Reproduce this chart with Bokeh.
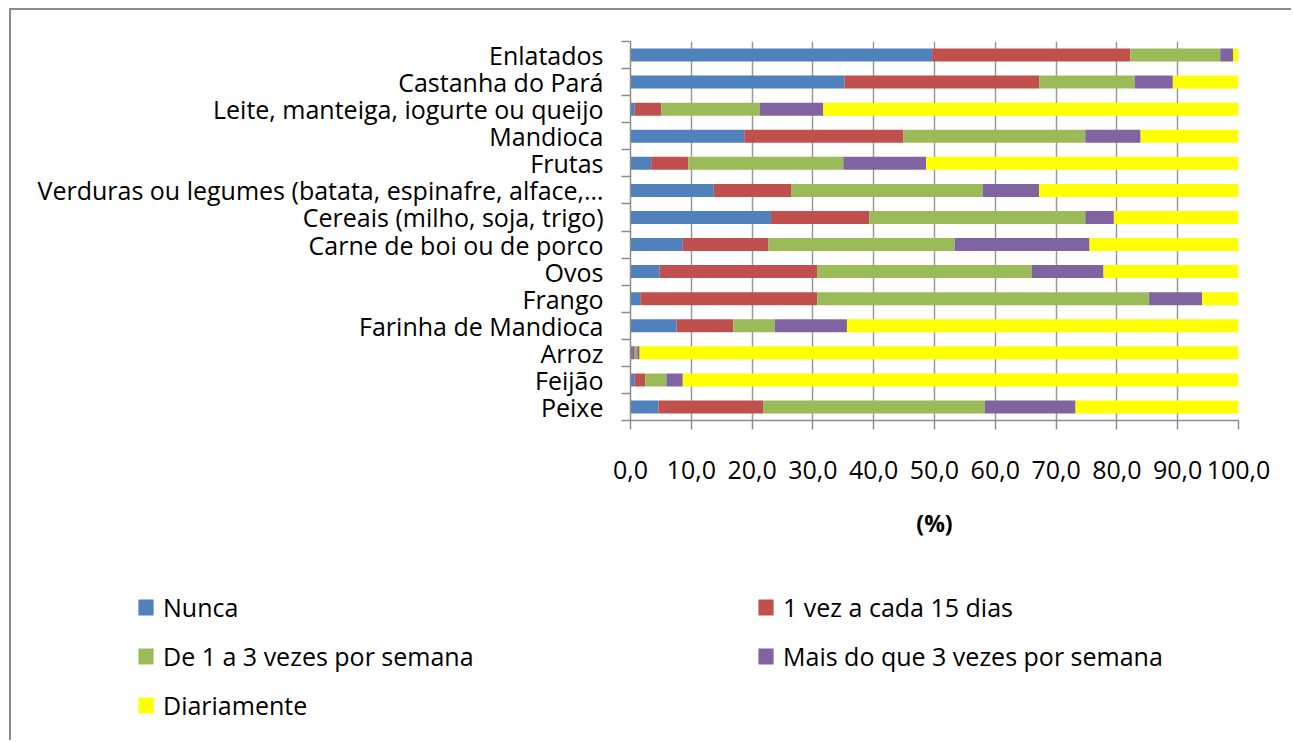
from bokeh.plotting import figure
from bokeh.models import Range1d, FixedTicker, Legend, LegendItem, ColumnDataSource
from bokeh.layouts import column
from bokeh.embed import file_html
from bokeh.resources import INLINE

categories = ["Enlatados", "Castanha do Pará", "Leite, manteiga, iogurte ou queijo",
              "Mandioca", "Frutas", "Verduras ou legumes (batata, espinafre, alface,…",
              "Cereais (milho, soja, trigo)", "Carne de boi ou de porco", "Ovos",
              "Frango", "Farinha de Mandioca", "Arroz", "Feijão", "Peixe"]

nunca =       [49.6, 35.2, 0.7, 18.7, 3.4, 13.7, 23.1, 8.6, 4.8, 1.6, 7.6, 0.4, 0.7, 4.6]
quinzenal =   [32.6, 32.0, 4.4, 26.2, 6.1, 12.7, 16.2, 14.1, 25.9, 29.1, 9.3, 0.3, 1.7, 17.2]
semana_1_3 =  [14.8, 15.7, 16.2, 29.9, 25.5, 31.5, 35.5, 30.6, 35.3, 54.6, 6.8, 0.4, 3.5, 36.5]
semana_mais = [2.1, 6.3, 10.4, 9.1, 13.6, 9.3, 4.7, 22.2, 11.8, 8.7, 11.9, 0.4, 2.7, 14.9]
diariamente = [0.9, 10.8, 68.3, 16.1, 51.4, 32.8, 20.5, 24.5, 22.2, 6.0, 64.4, 98.5, 91.4, 26.8]

series_names = ["Nunca", "1 vez a cada 15 dias", "De 1 a 3 vezes por semana",
                "Mais do que 3 vezes por semana", "Diariamente"]
colors = ["#4F81BD", "#C0504D", "#9BBB59", "#8064A2", "#FFFF00"]
x_ticks = [0, 10, 20, 30, 40, 50, 60, 70, 80, 90, 100]
x_tick_labels = ["0,0", "10,0", "20,0", "30,0", "40,0", "50,0", "60,0", "70,0", "80,0", "90,0", "100,0"]

n = len(categories)
ypos = [n - 1 - i + 0.5 for i in range(n)]
keys = ["s0", "s1", "s2", "s3", "s4"]
source = ColumnDataSource(dict(y=ypos, s0=nunca, s1=quinzenal, s2=semana_1_3,
                               s3=semana_mais, s4=diariamente))

FONT = "Open Sans"
GRAY = "#8c8c8c"
W = 1280

p = figure(width=W, height=560, output_backend="svg", toolbar_location=None,
           x_range=Range1d(0, 100), y_range=Range1d(0, n),
           min_border_left=619, min_border_right=W - 1227, min_border_top=31,
           min_border_bottom=150)
p.frame_align = False
p.outline_line_color = None
p.background_fill_color = "white"
p.border_fill_color = "white"

renderers = p.hbar_stack(keys, y="y", height=0.48, color=colors, source=source,
                         line_color=None)

# x axis
xa = p.xaxis[0]
xa.ticker = FixedTicker(ticks=x_ticks)
xa.major_label_overrides = {t: l for t, l in zip(x_ticks, x_tick_labels)}
xa.axis_line_color = GRAY
xa.axis_line_width = 1.5
xa.major_tick_line_color = GRAY
xa.major_tick_line_width = 1.5
xa.major_tick_out = 9
xa.major_tick_in = 0
xa.minor_tick_line_color = None
xa.major_label_text_font = FONT
xa.major_label_text_font_size = "25px"
xa.major_label_text_color = "black"
xa.major_label_standoff = 31
xa.axis_label = "(%)"
xa.axis_label_text_font = FONT
xa.axis_label_text_font_size = "23px"
xa.axis_label_text_font_style = "bold"
xa.axis_label_text_color = "black"
xa.axis_label_standoff = 25

# y axis
ya = p.yaxis[0]
ya.ticker = FixedTicker(ticks=ypos, minor_ticks=list(range(n + 1)))
ya.major_label_overrides = {y: c for y, c in zip(ypos, categories)}
ya.axis_line_color = GRAY
ya.axis_line_width = 1.5
ya.major_tick_line_color = None
ya.major_tick_out = 0
ya.major_tick_in = 0
ya.minor_tick_line_color = GRAY
ya.minor_tick_line_width = 1.5
ya.minor_tick_out = 9
ya.minor_tick_in = 0
ya.major_label_text_font = FONT
ya.major_label_text_font_size = "25px"
ya.major_label_text_color = "black"
ya.major_label_standoff = 18

p.xgrid.ticker = FixedTicker(ticks=x_ticks)
p.xgrid.grid_line_color = "#999999"
p.xgrid.grid_line_width = 1.5
p.ygrid.grid_line_color = None

# legend panel (its own frame covers the whole panel)
LH = 170
q = figure(width=W, height=LH, output_backend="svg", toolbar_location=None,
           x_range=Range1d(0, 1), y_range=Range1d(0, 1),
           x_axis_type=None, y_axis_type=None,
           min_border_left=0, min_border_right=0, min_border_top=0, min_border_bottom=0)
q.frame_align = False
q.outline_line_color = None
q.grid.visible = False
q.background_fill_color = "white"
q.border_fill_color = "white"
swatches = q.hbar_stack(keys, y="y", height=0.48, color=colors, source=source,
                        line_color=None, visible=False)

items = [LegendItem(label=name, renderers=[r]) for name, r in zip(series_names, swatches)]
legend = Legend(items=items, orientation="horizontal", ncols=2, location=(125, 18))
legend.border_line_color = None
legend.background_fill_alpha = 0
legend.inactive_fill_alpha = 0
legend.padding = 0
legend.margin = 0
legend.glyph_width = 19
legend.glyph_height = 20
legend.label_height = 20
legend.label_standoff = 8
legend.label_width = 578
legend.spacing = 15
legend.label_text_font = FONT
legend.label_text_font_size = "25px"
legend.label_text_color = "black"
q.add_layout(legend, "center")

lay = column(p, q, spacing=0)
lay.styles = {"margin-left": "9px", "margin-top": "8px",
              "border-top": "2px solid #8c8c8c", "border-left": "2px solid #8c8c8c"}

open("out.html", "w").write(file_html(lay, INLINE))
